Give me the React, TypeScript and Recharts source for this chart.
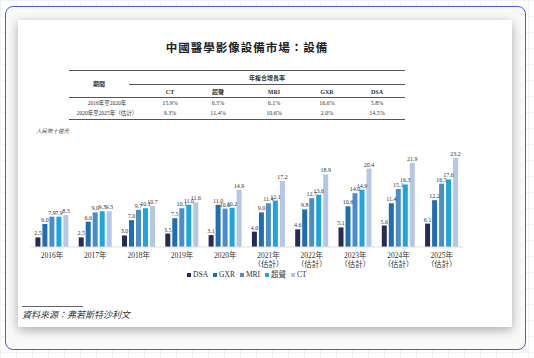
import React from "react"
import { BarChart, Bar, XAxis, YAxis, LabelList, Legend } from "recharts"

const years = ["2016年", "2017年", "2018年", "2019年", "2020年", "2021年", "2022年", "2023年", "2024年", "2025年"]
const estimated = [false, false, false, false, false, true, true, true, true, true]

const dsa = [2.5, 2.5, 3.0, 3.5, 3.1, 4.0, 4.6, 5.1, 5.6, 6.1]
const gxr = [6.0, 6.6, 7.0, 7.5, 11.0, 9.0, 9.8, 10.6, 11.4, 12.2]
const mri = [7.9, 9.0, 9.7, 10.1, 10.0, 11.4, 12.7, 14.0, 15.1, 16.5]
const ultrasound = [7.9, 9.3, 10.1, 11.0, 10.2, 12.1, 13.6, 14.9, 16.3, 17.6]
const ct = [8.3, 9.3, 10.7, 11.6, 14.9, 17.2, 18.9, 20.4, 21.9, 23.2]

// CAGR table
const cagrCols = ["CT", "超聲", "MRI", "GXR", "DSA"]
const cagrRows = [
  { label: "2016年至2020年", values: ["15.9%", "6.5%", "6.1%", "16.6%", "5.8%"] },
  { label: "2020年至2025年（估計）", values: ["9.3%", "11.4%", "10.6%", "2.0%", "14.5%"] },
]

const series = [
  { key: "DSA", name: "DSA", color: "#262b55" },
  { key: "GXR", name: "GXR", color: "#1f6db2" },
  { key: "MRI", name: "MRI", color: "#4b8dc8" },
  { key: "US", name: "超聲", color: "#1ca6dd" },
  { key: "CT", name: "CT", color: "#b5c7e6" },
]

const data = years.map((y, i) => ({
  year: y, est: estimated[i],
  DSA: dsa[i], GXR: gxr[i], MRI: mri[i], US: ultrasound[i], CT: ct[i],
}))

const serif = '"Liberation Serif", "Noto Sans CJK TC", serif'
const colX = [170, 218, 274, 327, 377]

const YearTick = ({ x, y, payload, index }: any) => (
  <g>
    <text x={x} y={y + 3} textAnchor="middle" fontSize={7.5} fill="#333" fontFamily={serif}>{payload.value}</text>
    {estimated[index] && (
      <text x={x} y={y + 12} textAnchor="middle" fontSize={7.5} fill="#333" fontFamily={serif}>（估計）</text>
    )}
  </g>
)

const renderLegend = () => (
  <div style={{ display: "flex", justifyContent: "center", gap: 5, fontFamily: serif, fontSize: 7.5, color: "#333", lineHeight: "11px" }}>
    {series.map(s => (
      <span key={s.key} style={{ display: "flex", alignItems: "center", gap: 2 }}>
        <span style={{ width: 4, height: 4, background: s.color, display: "inline-block" }}/>
        {s.name}
      </span>
    ))}
  </div>
)

export default function App() {
  return (
    <div style={{
      position: "absolute", left: 0, top: 0, width: 534, height: 358, overflow: "hidden", background: "#fff",
      backgroundImage: "linear-gradient(90deg, #f1f2f6 1px, transparent 1px), linear-gradient(#f1f2f6 1px, transparent 1px)",
      backgroundSize: "16px 16px",
    }}>
      <div style={{
        position: "absolute", left: 5, top: 6, width: 519, height: 342,
        border: "1.5px solid #4c5de6", borderRadius: 8, background: "#f9f9f9",
      }}/>
      <div style={{
        position: "absolute", left: 18, top: 20, width: 494, height: 307, background: "#fff",
        boxShadow: "0 3px 10px rgba(0,0,0,0.32)",
      }}/>

      <div style={{
        position: "absolute", left: 0, width: 494, top: 39, textAlign: "center", fontSize: 11.5, fontWeight: 700,
        fontFamily: '"Noto Sans CJK TC", sans-serif', color: "#222", letterSpacing: 1,
      }}>中國醫學影像設備市場：設備</div>

      {/* table */}
      <div style={{ fontFamily: serif, color: "#333", fontSize: 6, lineHeight: "8px" }}>
        <div style={{ position: "absolute", left: 69, top: 70, width: 336, height: 1, background: "#555" }}/>
        <div style={{ position: "absolute", left: 129, top: 84, width: 276, height: 1, background: "#555" }}/>
        <div style={{ position: "absolute", left: 69, top: 97, width: 336, height: 1, background: "#555" }}/>
        <div style={{ position: "absolute", left: 69, top: 119, width: 336, height: 1, background: "#555" }}/>
        <div style={{ position: "absolute", left: 69, top: 80, width: 60, textAlign: "center", fontWeight: 700,
          fontFamily: '"Noto Sans CJK TC", sans-serif' }}>期間</div>
        <div style={{ position: "absolute", left: 129, top: 74, width: 276, textAlign: "center", fontWeight: 700,
          fontFamily: '"Noto Sans CJK TC", sans-serif' }}>年複合增長率</div>
        {cagrCols.map((c, i) => (
          <div key={c} style={{ position: "absolute", left: colX[i] - 20, width: 40, top: 88, textAlign: "center", fontWeight: 700 }}>{c}</div>
        ))}
        {cagrRows.map((r, ri) => (
          <React.Fragment key={r.label}>
            <div style={{ position: "absolute", left: 62, width: 90, top: 99 + ri * 10, textAlign: "center", fontSize: 5.5 }}>{r.label}</div>
            {r.values.map((v, i) => (
              <div key={i} style={{ position: "absolute", left: colX[i] - 20, width: 40, top: 99 + ri * 10, textAlign: "center" }}>{v}</div>
            ))}
          </React.Fragment>
        ))}
      </div>

      <div style={{ position: "absolute", left: 36, top: 127, fontSize: 5.5, fontStyle: "italic", fontFamily: serif, color: "#444" }}>人民幣十億元</div>

      <div style={{ position: "absolute", left: 20, top: 120 }}>
        <BarChart width={460} height={160} data={data} barSize={5} barGap={2}
          margin={{ top: 19.5, right: 16.6, left: 10.4, bottom: 0 }}>
          <XAxis dataKey="year" tick={<YearTick />} tickLine={false} axisLine={{ stroke: "#ddd" }} height={22} interval={0}/>
          <YAxis hide domain={[0, 28]}/>
          <Legend verticalAlign="bottom" height={11} content={renderLegend}/>
          {series.map(s => (
            <Bar key={s.key} dataKey={s.key} name={s.name} fill={s.color} isAnimationActive={false}>
              <LabelList dataKey={s.key} position="top" offset={2} fontSize={6} fill="#333" fontFamily={serif}
                formatter={(v: any) => Number(v).toFixed(1)}/>
            </Bar>
          ))}
        </BarChart>
      </div>

      <div style={{ position: "absolute", left: 22, top: 306, width: 61, height: 1, background: "#666" }}/>
      <div style={{ position: "absolute", left: 22, top: 308, fontSize: 9, fontStyle: "italic", fontFamily: serif, color: "#333" }}>資料來源：弗若斯特沙利文</div>
    </div>
  )
}
